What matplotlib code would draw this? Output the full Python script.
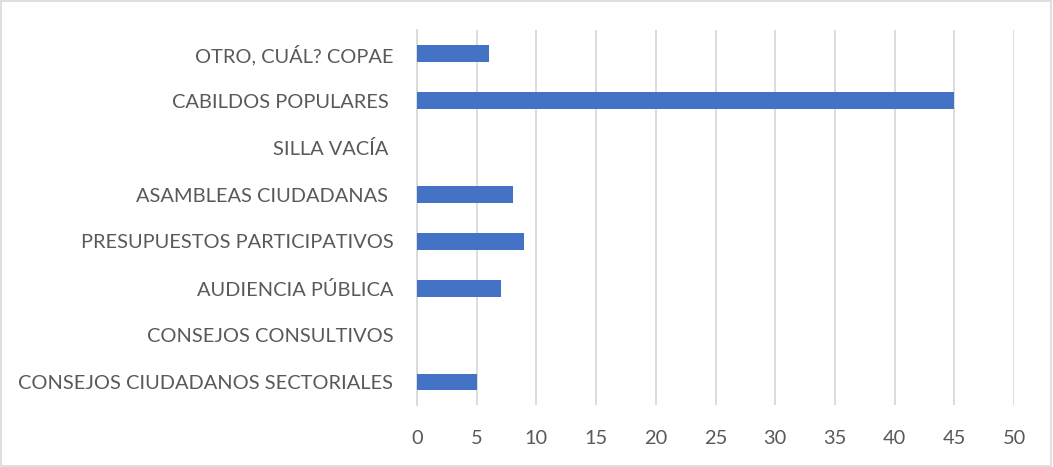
import matplotlib
matplotlib.use("Agg")
import matplotlib.pyplot as plt
from matplotlib.patches import Rectangle

### Data (bottom to top, as drawn)
categories = [
    "CONSEJOS CIUDADANOS SECTORIALES",
    "CONSEJOS CONSULTIVOS",
    "AUDIENCIA PÚBLICA",
    "PRESUPUESTOS PARTICIPATIVOS",
    "ASAMBLEAS CIUDADANAS ",
    "SILLA VACÍA ",
    "CABILDOS POPULARES ",
    "OTRO, CUÁL? COPAE",
]
values = [5, 0, 7, 9, 8, 0, 45, 6]
x_ticks = list(range(0, 55, 5))

plt.rcParams['font.family'] = ['Lato', 'DejaVu Sans']

fig = plt.figure(figsize=(10.53, 4.67), dpi=100)
ax = fig.add_axes([0.396, 0.1317, 0.567, 0.803])

ax.barh(range(len(categories)), values, height=0.36, color="#4472C4", zorder=3)

ax.set_xlim(0, 50)
ax.set_ylim(-0.5, len(categories) - 0.5)
ax.set_xticks(x_ticks)
ax.set_yticks(range(len(categories)))
ax.set_yticklabels(categories)

ax.grid(axis="x", color="#D9D9D9", linewidth=1.3, zorder=0)
for s in ["top", "right", "bottom"]:
    ax.spines[s].set_visible(False)
ax.spines["left"].set_color("#D9D9D9")
ax.spines["left"].set_linewidth(1.3)

ax.tick_params(axis="x", length=0, pad=18, labelsize=14.4, labelcolor="#595959")
ax.tick_params(axis="y", length=0, pad=17, labelsize=14.4, labelcolor="#595959")

### chart border
fig.patches.append(Rectangle((0.001, 0.002), 0.997, 0.995, transform=fig.transFigure,
                             fill=False, edgecolor="#D9D9D9", linewidth=1.2))

plt.savefig("out.png", dpi=100)
